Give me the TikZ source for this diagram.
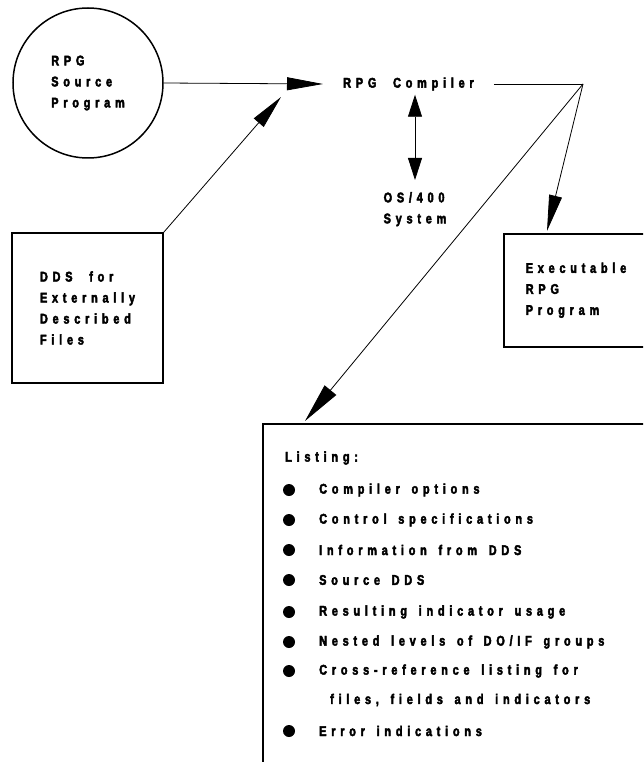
\documentclass[tikz,border=0pt]{standalone}
\usepackage{fontspec}
\usetikzlibrary{arrows.meta}
\newfontfamily\lblfont{Liberation Sans}[LetterSpace=34, FakeStretch=0.78, FakeBold=3, WordSpace=1.5]
\newcommand{\gap}{\hspace{5pt}}
\begin{document}
\begin{tikzpicture}[x=1pt, y=-1pt,
  txt/.style={font={\lblfont\bfseries\fontsize{14}{21}\selectfont}, inner sep=0pt},
  thick box/.style={draw, line width=1.5pt},
  conn/.style={line width=0.8pt},
  bigtip/.style={-{Triangle[length=36pt, width=13pt]}},
  dot/.style={circle, fill, inner sep=0pt, minimum size=12pt}]
\useasboundingbox (0,0) rectangle (643,762);
\clip (0,0) rectangle (643,762);

% source program and DDS
\node (src) [thick box, circle, minimum size=150pt, align=left, txt] at (88,83)
  {RPG\\Source\\Program};
\node (dds) [thick box, minimum width=151pt, minimum height=150pt, align=left, txt]
  at (87.5,308) {DDS\gap{} for\\Externally\\Described\\Files};

% compiler and operating system
\node (cmp) [txt, anchor=west, inner xsep=20pt, inner ysep=4pt] at (323,84) {RPG\gap{} Compiler};
\node (os) [txt, align=left, anchor=north, inner ysep=12pt] at (415,180) {OS/400\\System};
\coordinate (ddstip) at (281,97);
\coordinate (hub) at (583,84);

% outputs
\node (exe) [thick box, anchor=north west, minimum width=160pt, minimum height=113pt,
  text width=116pt, inner xsep=22pt, align=left, txt] at (503,233)
  {Executable\\RPG\\Program};
\node (lst) [thick box, anchor=north west, minimum width=420pt, minimum height=400pt]
  at (262,423) {};
\coordinate (exetip) at (547,231);
\coordinate (lsttip) at (305,421);

% listing contents
\node (lhead) [txt, anchor=west] at (285,458) {Listing:};
\foreach \y/\t [count=\i] in {490/{Compiler options}, 520/{Control specifications},
  550/{Information from DDS}, 580/{Source DDS}, 612/{Resulting indicator usage},
  642/{Nested levels of DO{/}IF groups}, 671/{Cross-reference listing for},
  731/{Error indications}} {
  \node (b\i) [dot] at (289,\y) {};
  \node (item\i) [txt, anchor=west] at (319,\y) {\t};
}
\node (item7b) [txt, anchor=west] at (330,700) {files, fields and indicators};

% connectors
\draw [conn, bigtip] (src.east) -- (cmp.west);
\draw [conn, -{Triangle[length=34pt, width=13pt]}] (dds.north east) -- (ddstip);
\draw [conn, {Triangle[length=22pt, width=14pt]}-{Triangle[length=22pt, width=14pt]}]
  (os.north) -- (os.north |- cmp.south);
\draw [conn] (cmp.east) -- (hub);
\draw [conn, bigtip] (hub) -- (exetip);
\draw [conn, -{Triangle[length=40pt, width=15pt]}] (hub) -- (lsttip);
\end{tikzpicture}
\end{document}
